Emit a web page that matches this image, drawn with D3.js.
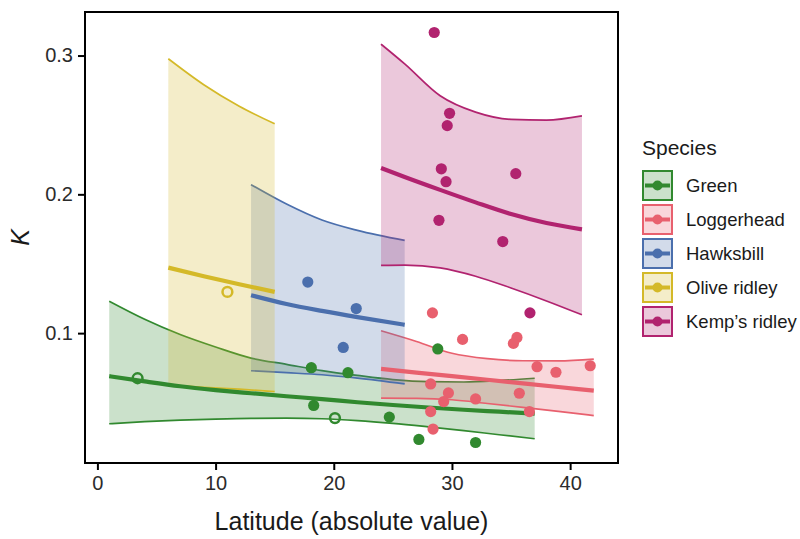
<!DOCTYPE html>
<html>
<head>
<meta charset="utf-8">
<script src="https://cdn.jsdelivr.net/npm/d3@7"></script>
<style>
  body { margin: 0; background: #fff; }
  svg { display: block; font-family: "Liberation Sans", Arial, sans-serif; }
</style>
</head>
<body>
<div id="chart"></div>
<script>
const species = ['Green', 'Loggerhead', 'Hawksbill', 'Olive ridley', 'Kemp\u2019s ridley'];
const colours = ['#31892f', '#e8606e', '#4b6fad', '#d4b928', '#b1236f'];

// fitted K with its band, read along latitude for each species
const greenLat   = [1, 4, 7, 10, 13, 16, 19, 22, 25, 28, 31, 34, 37];
const greenFit   = [0.0690, 0.0652, 0.0617, 0.0590, 0.0567, 0.0545, 0.0525, 0.0502, 0.0482, 0.0464, 0.0448, 0.0434, 0.0420];
const greenLow   = [0.0347, 0.0362, 0.0373, 0.0381, 0.0386, 0.0387, 0.0383, 0.0370, 0.0350, 0.0325, 0.0298, 0.0268, 0.0239];
const greenHigh  = [0.1230, 0.1100, 0.0990, 0.0900, 0.0820, 0.0775, 0.0730, 0.0695, 0.0665, 0.0650, 0.0648, 0.0658, 0.0675];

const loggerLat  = [24, 27, 30, 33, 36, 39, 42];
const loggerFit  = [0.0742, 0.0716, 0.0690, 0.0664, 0.0638, 0.0612, 0.0586];
const loggerLow  = [0.0531, 0.0530, 0.0520, 0.0493, 0.0465, 0.0436, 0.0406];
const loggerHigh = [0.1017, 0.0940, 0.0855, 0.0816, 0.0801, 0.0800, 0.0813];

const hawksLat   = [13, 16, 19, 22, 26];
const hawksFit   = [0.1273, 0.1210, 0.1160, 0.1115, 0.1060];
const hawksLow   = [0.0729, 0.0715, 0.0700, 0.0676, 0.0634];
const hawksHigh  = [0.2070, 0.1930, 0.1815, 0.1740, 0.1668];

const oliveLat   = [6, 9, 12, 15];
const oliveFit   = [0.1472, 0.1410, 0.1352, 0.1297];
const oliveLow   = [0.0625, 0.0610, 0.0596, 0.0579];
const oliveHigh  = [0.2977, 0.2790, 0.2635, 0.2508];

const kempLat    = [24, 26, 29, 32, 35, 38, 41];
const kempFit    = [0.2190, 0.2125, 0.2032, 0.1942, 0.1858, 0.1793, 0.1748];
const kempLow    = [0.1488, 0.1490, 0.1470, 0.1410, 0.1325, 0.1232, 0.1132];
const kempHigh   = [0.3082, 0.2940, 0.2710, 0.2592, 0.2540, 0.2535, 0.2565];

// observed points: [latitude, K, open circle?]
const greenPoints = [[3.4, 0.0675, 1], [18.1, 0.0751, 0], [18.3, 0.0479, 0], [21.2, 0.0715, 0], [20.1, 0.0388, 1],
                     [24.7, 0.0395, 0], [27.2, 0.0234, 0], [28.8, 0.0886, 0], [32.0, 0.0212, 0]];
const loggerPoints = [[28.35, 0.1146, 0], [30.9, 0.0955, 0], [35.5, 0.0969, 0], [35.2, 0.0926, 0], [37.2, 0.0758, 0],
                      [38.8, 0.0718, 0], [41.7, 0.0765, 0], [28.2, 0.0634, 0], [29.7, 0.0569, 0], [29.3, 0.0507, 0],
                      [32.0, 0.0526, 0], [35.7, 0.0567, 0], [28.2, 0.0435, 0], [36.55, 0.0435, 0], [28.4, 0.0309, 0]];
const hawksPoints = [[17.8, 0.1368, 0], [21.9, 0.1177, 0], [20.8, 0.0897, 0]];
const olivePoints = [[11.0, 0.1297, 1]];
const kempPoints = [[28.5, 0.3166, 0], [29.8, 0.2584, 0], [29.6, 0.2495, 0], [29.1, 0.2184, 0], [29.5, 0.2091, 0],
                    [35.4, 0.2149, 0], [28.9, 0.1813, 0], [34.3, 0.1660, 0], [36.6, 0.1146, 0]];

const xTicks = [0, 10, 20, 30, 40];
const yTicks = [0.1, 0.2, 0.3];

const groups = [
  { lat: greenLat, fit: greenFit, low: greenLow, high: greenHigh, pts: greenPoints },
  { lat: loggerLat, fit: loggerFit, low: loggerLow, high: loggerHigh, pts: loggerPoints },
  { lat: hawksLat, fit: hawksFit, low: hawksLow, high: hawksHigh, pts: hawksPoints },
  { lat: oliveLat, fit: oliveFit, low: oliveLow, high: oliveHigh, pts: olivePoints },
  { lat: kempLat, fit: kempFit, low: kempLow, high: kempHigh, pts: kempPoints }
].map((g, i) => Object.assign(g, { name: species[i], colour: colours[i] }));

const width = 800;
const height = 539;
const panel = { left: 85, right: 618, top: 12, bottom: 463 };

// ggplot style 5% expansion of the data range
const expand = (ext) => {
  const pad = (ext[1] - ext[0]) * 0.05;
  return [ext[0] - pad, ext[1] + pad];
};
const allLat = groups.flatMap(g => g.lat.concat(g.pts.map(p => p[0])));
const allK = groups.flatMap(g => g.low.concat(g.high, g.pts.map(p => p[1])));

const xScale = d3.scaleLinear()
                 .domain(expand(d3.extent(allLat)))
                 .range([panel.left, panel.right]);
const yScale = d3.scaleLinear()
                 .domain(expand(d3.extent(allK)))
                 .range([panel.bottom, panel.top]);

const svg = d3.select('#chart')
              .append('svg')
              .attr('width', width)
              .attr('height', height);

const area = d3.area()
               .x(d => xScale(d[0]))
               .y0(d => yScale(d[1]))
               .y1(d => yScale(d[2]))
               .curve(d3.curveMonotoneX);
const line = d3.line()
               .x(d => xScale(d[0]))
               .y(d => yScale(d[1]))
               .curve(d3.curveMonotoneX);

// bands with their edges
groups.forEach(g => {
  const rows = g.lat.map((x, i) => [x, g.low[i], g.high[i]]);
  svg.append('path')
     .attr('d', area(rows))
     .attr('fill', g.colour)
     .attr('fill-opacity', 0.25);
  [g.low, g.high].forEach(edge => {
    svg.append('path')
       .attr('d', line(g.lat.map((x, i) => [x, edge[i]])))
       .attr('fill', 'none')
       .attr('stroke', g.colour)
       .attr('stroke-width', 1.7);
  });
});

// fitted lines
groups.forEach(g => {
  svg.append('path')
     .attr('d', line(g.lat.map((x, i) => [x, g.fit[i]])))
     .attr('fill', 'none')
     .attr('stroke', g.colour)
     .attr('stroke-width', 4.2);
});

// points
groups.forEach(g => {
  svg.selectAll(null)
     .data(g.pts)
     .enter()
     .append('circle')
     .attr('cx', d => xScale(d[0]))
     .attr('cy', d => yScale(d[1]))
     .attr('r', d => d[2] ? 4.9 : 5.6)
     .attr('fill', d => d[2] ? 'none' : g.colour)
     .attr('stroke', d => d[2] ? g.colour : 'none')
     .attr('stroke-width', 2.5);
});

// panel border
svg.append('rect')
   .attr('x', panel.left)
   .attr('y', panel.top)
   .attr('width', panel.right - panel.left)
   .attr('height', panel.bottom - panel.top)
   .attr('fill', 'none')
   .attr('stroke', '#000')
   .attr('stroke-width', 2);

const xAxis = svg.append('g')
                 .attr('transform', 'translate(0,' + (panel.bottom + 1) + ')')
                 .call(d3.axisBottom(xScale).tickValues(xTicks).tickSize(6).tickPadding(6));
const yAxis = svg.append('g')
                 .attr('transform', 'translate(' + (panel.left - 1) + ',0)')
                 .call(d3.axisLeft(yScale).tickValues(yTicks).tickFormat(d3.format('.1f')).tickSize(6).tickPadding(5));

[xAxis, yAxis].forEach(ax => {
  ax.select('.domain').remove();
  ax.selectAll('line').attr('stroke', '#000').attr('stroke-width', 2);
  ax.selectAll('text')
    .attr('fill', '#2b2b2b')
    .style('font-size', '20px')
    .style('font-family', '"Liberation Sans", Arial, sans-serif');
});

svg.append('text')
   .attr('x', (panel.left + panel.right) / 2)
   .attr('y', 530)
   .attr('text-anchor', 'middle')
   .attr('fill', '#1a1a1a')
   .style('font-size', '25px')
   .text('Latitude (absolute value)');

svg.append('text')
   .attr('transform', 'translate(29,' + ((panel.top + panel.bottom) / 2) + ') rotate(-90)')
   .attr('text-anchor', 'middle')
   .attr('fill', '#1a1a1a')
   .style('font-size', '25px')
   .style('font-style', 'italic')
   .text('K');

// legend
const legend = svg.append('g').attr('transform', 'translate(642,0)');
legend.append('text')
      .attr('x', 0)
      .attr('y', 155)
      .attr('fill', '#1a1a1a')
      .style('font-size', '21px')
      .text('Species');

const keySize = 31;
const keyStep = 34;
groups.forEach((g, i) => {
  const top = 170 + i * keyStep;
  const key = legend.append('g').attr('transform', 'translate(0,' + top + ')');
  key.append('rect')
     .attr('x', 1)
     .attr('y', 1)
     .attr('width', keySize - 2)
     .attr('height', keySize - 2)
     .attr('fill', g.colour)
     .attr('fill-opacity', 0.25)
     .attr('stroke', g.colour)
     .attr('stroke-width', 2);
  key.append('line')
     .attr('x1', 3)
     .attr('x2', keySize - 3)
     .attr('y1', keySize / 2)
     .attr('y2', keySize / 2)
     .attr('stroke', g.colour)
     .attr('stroke-width', 4);
  key.append('circle')
     .attr('cx', keySize / 2)
     .attr('cy', keySize / 2)
     .attr('r', 5)
     .attr('fill', g.colour);
  key.append('text')
     .attr('x', 44)
     .attr('y', keySize / 2)
     .attr('dy', '0.35em')
     .attr('fill', '#1a1a1a')
     .style('font-size', '18.5px')
     .text(g.name);
});
</script>
</body>
</html>
